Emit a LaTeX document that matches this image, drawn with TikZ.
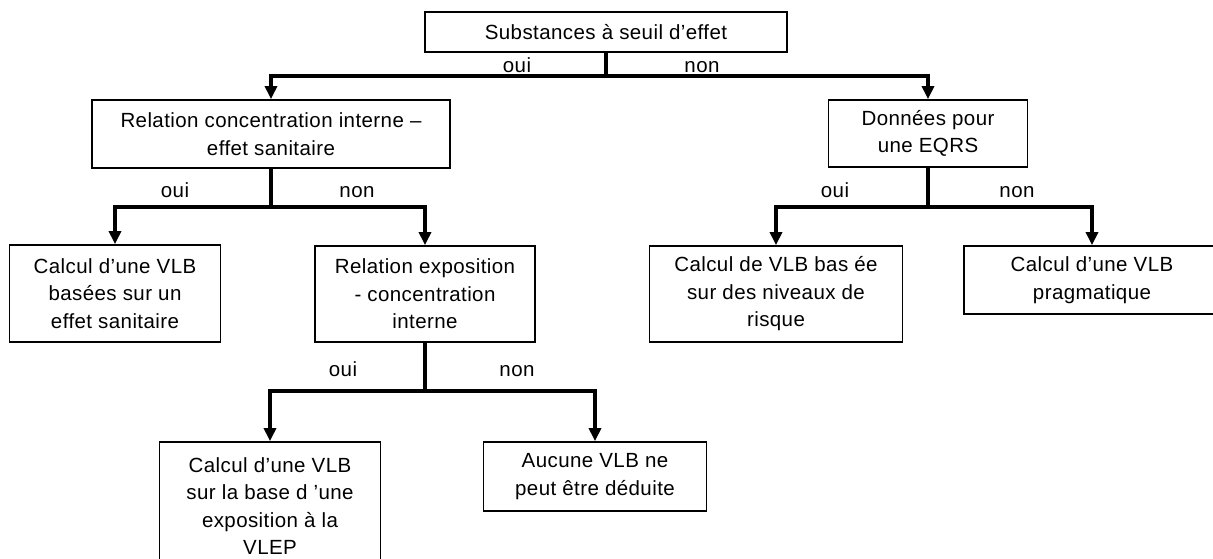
\documentclass[tikz,border=0pt]{standalone}
\usepackage{fontspec}
\setmainfont{Liberation Sans}[LetterSpace=2]
\usetikzlibrary{arrows.meta}
\tikzset{
  box/.style={draw, line width=1.8pt, inner sep=0pt, align=center,
    font=\fontsize{20.5}{27.5}\selectfont},
  lbl/.style={inner sep=0pt, anchor=base, font=\fontsize{20.5}{27.5}\selectfont},
  conn/.style={line width=3.2pt},
  arr/.style={line width=3.2pt, -{Triangle[width=12pt,length=13pt]}}
}
\begin{document}
\begin{tikzpicture}[x=1pt,y=-1pt]
\useasboundingbox (0,0) rectangle (1213,558);
\clip (0,0) rectangle (1213,558);
% boxes (centre, width, height)
\node[box, minimum width=362, minimum height=40] (top) at (606,32) {Substances à seuil d’effet};
\node[box, minimum width=358, minimum height=68] (b2) at (271,134) {Relation concentration interne –\\effet sanitaire};
\node[box, minimum width=199, minimum height=67] (b5) at (928,133.5) {Données pour\\une EQRS};
\node[box, minimum width=211, minimum height=97] (b3) at (115,293.5) {Calcul d’une VLB\\basées sur un\\effet sanitaire};
\node[box, minimum width=220, minimum height=96] (b4) at (425,294) {Relation exposition\\- concentration\\interne};
\node[box, minimum width=253, minimum height=96] (b9) at (776,294) {Calcul de VLB bas ée\\sur des niveaux de\\risque};
\node[box, minimum width=256, minimum height=68] (b10) at (1092,280) {Calcul d’une VLB\\pragmatique};
\node[box, minimum width=221, minimum height=128] (b7) at (270,506) {Calcul d’une VLB\\sur la base d ’une\\exposition à la\\VLEP};
\node[box, minimum width=223, minimum height=69] (b8) at (595,476.5) {Aucune VLB ne\\peut être déduite};
% junctions
\coordinate (j1) at (606,76);
\coordinate (j2) at (271,207);
\coordinate (j5) at (928,207);
\coordinate (j4) at (425,391);
% connectors
\draw[conn] (top.south) -- (j1);
\draw[arr] (j1) -| (b2.north);
\draw[arr] (j1) -| (b5.north);
\draw[conn] (b2.south) -- (j2);
\draw[arr] (j2) -| (b3.north);
\draw[arr] (j2) -| (b4.north);
\draw[conn] (b5.south) -- (j5);
\draw[arr] (j5) -| (b9.north);
\draw[arr] (j5) -| (b10.north);
\draw[conn] (b4.south) -- (j4);
\draw[arr] (j4) -| (b7.north);
\draw[arr] (j4) -| (b8.north);
% labels
\node[lbl] (l1) at (517,72) {oui};
\node[lbl] (l2) at (702,72) {non};
\node[lbl] (l3) at (175,197) {oui};
\node[lbl] (l4) at (357,197) {non};
\node[lbl] (l5) at (835,197) {oui};
\node[lbl] (l6) at (1017,197) {non};
\node[lbl] (l7) at (343,376) {oui};
\node[lbl] (l8) at (517,376) {non};
\end{tikzpicture}
\end{document}
